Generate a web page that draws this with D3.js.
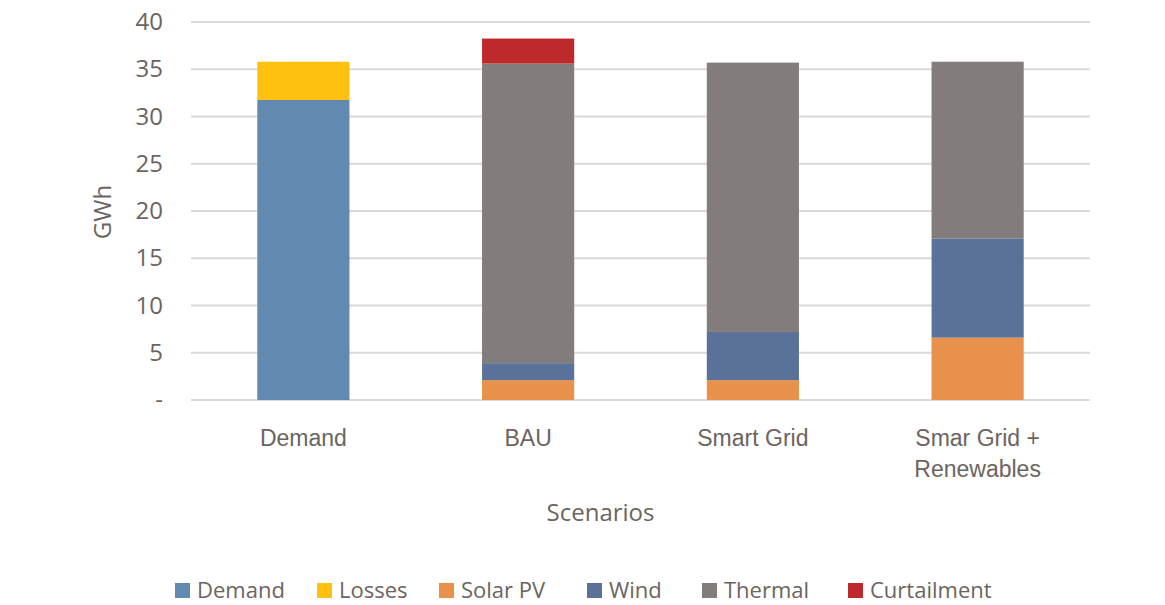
<!DOCTYPE html>
<html>
<head>
<meta charset="utf-8">
<script src="https://cdn.jsdelivr.net/npm/d3@7/dist/d3.min.js"></script>
<style>
  html, body { margin: 0; padding: 0; background: #ffffff; }
  svg { display: block; font-family: "Open Sans", sans-serif; }
</style>
</head>
<body>
<svg id="chart" width="1165" height="605"></svg>
<script>
// Scenario categories (second entry of each pair is an extra label line)
const scenarios = ["Demand", "BAU", "Smart Grid", "Smar Grid + Renewables"];
const scenarioLines = [["Demand"], ["BAU"], ["Smart Grid"], ["Smar Grid +", "Renewables"]];

// Series names and energy values (GWh) per scenario
const seriesNames = ["Demand", "Losses", "Solar PV", "Wind", "Thermal", "Curtailment"];
const demand      = [31.75, 0, 0, 0];
const losses      = [4.05, 0, 0, 0];
const solarPV     = [0, 2.1, 2.1, 6.6];
const wind        = [0, 1.8, 5.1, 10.5];
const thermal     = [0, 31.7, 28.5, 18.7];
const curtailment = [0, 2.65, 0, 0];

// Y axis ticks
const yTicks = [0, 5, 10, 15, 20, 25, 30, 35, 40];
const yTickLabels = ["-", "5", "10", "15", "20", "25", "30", "35", "40"];

const colors = ["#628ab1", "#fec110", "#e8914a", "#5a7299", "#827d7a", "#be2a2b"];
const textColor = "#6b6461";

const seriesValues = [demand, losses, solarPV, wind, thermal, curtailment];
const rows = scenarios.map((s, i) => {
  const r = { scenario: s };
  seriesNames.forEach((n, k) => { r[n] = seriesValues[k][i]; });
  return r;
});

const svg = d3.select("#chart");
const plot = { left: 191, right: 1090, top: 22, bottom: 400 };

const x = d3.scaleBand()
  .domain(scenarios)
  .range([plot.left, plot.right])
  .paddingInner(0.59)
  .paddingOuter(0.295);

const y = d3.scaleLinear()
  .domain([0, 40])
  .range([plot.bottom, plot.top]);

// Horizontal gridlines
svg.append("g")
  .selectAll("line")
  .data(yTicks)
  .join("line")
  .attr("x1", plot.left)
  .attr("x2", plot.right)
  .attr("y1", d => y(d))
  .attr("y2", d => y(d))
  .attr("stroke", "#dcd8d5")
  .attr("stroke-width", 2);

// Y axis tick labels
const yAxis = d3.axisLeft(y)
  .tickValues(yTicks)
  .tickFormat((d, i) => yTickLabels[i])
  .tickSize(0)
  .tickPadding(0);

const yAxisG = svg.append("g")
  .attr("transform", `translate(${plot.left - 28},0)`)
  .call(yAxis);
yAxisG.select(".domain").remove();
yAxisG.selectAll("text")
  .attr("fill", textColor)
  .attr("font-size", 24)
  .attr("font-family", "Open Sans, sans-serif");

// Stacked bars
const stack = d3.stack().keys(seriesNames);
const stacked = stack(rows);

svg.append("g")
  .selectAll("g")
  .data(stacked)
  .join("g")
  .attr("fill", (d, i) => colors[i])
  .selectAll("rect")
  .data(d => d)
  .join("rect")
  .attr("x", d => x(d.data.scenario))
  .attr("width", x.bandwidth())
  .attr("y", d => y(d[1]))
  .attr("height", d => Math.max(0, y(d[0]) - y(d[1])));

// Category labels
const xAxis = d3.axisBottom(x).tickSize(0).tickFormat("");
const xAxisG = svg.append("g")
  .attr("transform", `translate(0,${plot.bottom})`)
  .call(xAxis);
xAxisG.select(".domain").remove();

xAxisG.selectAll(".tick")
  .each(function(d, i) {
    const t = d3.select(this).append("text")
      .attr("fill", textColor)
      .attr("font-size", 23)
      .attr("text-anchor", "middle")
      .attr("y", 46);
    scenarioLines[i].forEach((line, j) => {
      t.append("tspan")
        .attr("x", 0)
        .attr("dy", j === 0 ? 0 : 31)
        .text(line);
    });
  });

// Axis titles
svg.append("text")
  .attr("x", (plot.left + plot.right) / 2 - 40)
  .attr("y", 521)
  .attr("text-anchor", "middle")
  .attr("fill", textColor)
  .attr("font-size", 24)
  .text("Scenarios");

svg.append("text")
  .attr("transform", "translate(111,212) rotate(-90)")
  .attr("text-anchor", "middle")
  .attr("fill", textColor)
  .attr("font-size", 24)
  .text("GWh");

// Legend
const legendX = [175, 317, 439, 587, 702, 848];
const legend = svg.append("g")
  .selectAll("g")
  .data(seriesNames)
  .join("g")
  .attr("transform", (d, i) => `translate(${legendX[i]},583)`);

legend.append("rect")
  .attr("width", 15)
  .attr("height", 15)
  .attr("fill", (d, i) => colors[i]);

legend.append("text")
  .attr("x", 22)
  .attr("y", 15)
  .attr("fill", textColor)
  .attr("font-size", 22)
  .text(d => d);
</script>
</body>
</html>
